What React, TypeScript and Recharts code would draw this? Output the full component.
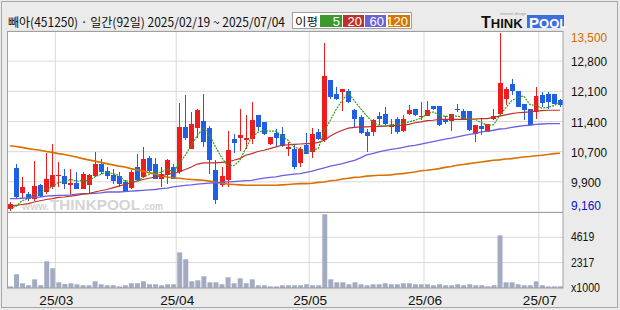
import React from 'react';
import { ComposedChart, Bar, Line, XAxis, YAxis, CartesianGrid, ReferenceLine } from 'recharts';

// ---------- data ----------
const opens = [9240,10220,9620,9590,9480,9800,9640,9750,10020,10020,
 9810,9850,9720,9800,10030,10320,10140,10040,10020,9880,
 9740,10240,10000,10460,10300,9960,10040,10240,10110,11200,
 10680,11180,11340,11180,10160,9800,9920,10910,10940,10880,
 10910,11480,11320,10790,11060,11030,10670,10680,10340,10760,
 10600,11080,10880,12320,11990,12030,12060,11600,11430,11080,
 11080,11460,11510,11200,11380,11100,11520,11630,11430,11470,
 11700,11700,11360,11340,11640,11590,11590,11040,11220,11080,
 11380,11520,11870,12240,12070,11750,11620,11560,11960,11990,
 11990,11840];
const highs = [9400,10300,10000,9640,10380,9830,10580,10800,10350,10180,
 10190,10120,10120,10070,10600,10440,10240,10200,10120,9920,
 10160,10540,10720,10500,10460,10240,10440,10320,11780,11960,
 11560,11620,11990,11220,10400,10240,11100,11030,11630,11480,
 11800,11480,11320,10960,11160,11200,10840,10760,10720,11060,
 11180,11160,13220,12320,12160,12110,12110,11620,11480,11160,
 11380,11560,11670,11390,11440,11480,11720,11640,11800,11820,
 11700,11700,11460,11520,11750,11620,11590,11240,11400,11270,
 11630,13450,12150,12360,12070,11750,11620,12150,12040,12040,
 11990,11880];
const lows = [9180,9480,9480,9430,9430,9520,9600,9700,9760,9720,
 9600,9700,9700,9590,10000,10080,9960,9830,9760,9640,
 9700,9910,9980,10100,9950,9760,9840,9950,10080,10880,
 10670,10940,10710,10080,9340,9760,9760,10580,10620,10660,
 10800,11100,11000,10760,10720,10710,10500,10180,10240,10540,
 10460,10880,10840,11860,11840,11580,11780,11190,11030,10600,
 10980,11240,11240,11030,11030,11080,11480,11460,11360,11460,
 11600,11220,11280,11110,11560,11380,11110,10840,11000,11070,
 11360,11460,11720,11960,11680,11360,11240,11400,11680,11640,
 11750,11680];
const closes = [9360,9520,9760,9480,9790,9550,9950,10040,10040,9830,
 9850,9720,10080,10040,10320,10110,10020,9910,9830,9650,
 10130,9920,10420,10150,9960,10080,10400,9960,11190,10940,
 11280,11600,10840,10400,9440,10030,10640,10820,11000,10940,
 11360,11200,11020,10960,10940,10750,10720,10240,10670,10550,
 11030,10900,12420,11920,11870,12110,11800,11380,11060,10980,
 11360,11400,11270,11240,11080,11400,11600,11480,11460,11600,
 11640,11240,11320,11510,11600,11400,11120,11240,11140,11270,
 11460,12260,12100,12070,11680,11600,11240,11940,11780,11800,
 11760,11720];
const volumes = [150,1250,430,250,790,250,2430,1800,520,370,
 430,340,250,250,610,340,250,250,150,250,
 430,430,610,340,340,250,340,340,3250,2620,
 610,700,1070,520,520,340,980,430,880,430,
 790,250,250,150,150,250,250,250,250,340,
 250,250,6720,790,520,520,340,520,340,250,
 340,340,430,340,340,430,430,340,340,340,
 250,340,250,250,340,250,340,250,250,150,
 250,4800,520,520,340,250,250,610,250,150,
 150,150];
const ma5 = [9240,9300,9430,9480,9590,9620,9710,9760,9870,9880,
 9940,9900,9910,9910,10000,10060,10120,10080,10040,9900,
 9910,9890,9990,10060,10120,10110,10200,10110,10320,10520,
 10760,11000,11170,11020,10720,10470,10270,10270,10390,10690,
 10950,11070,11110,11100,11100,10980,10880,10720,10670,10590,
 10640,10680,11110,11360,11630,11840,12020,11820,11640,11470,
 11320,11240,11220,11250,11270,11280,11320,11360,11410,11510,
 11560,11490,11450,11460,11460,11420,11390,11380,11300,11240,
 11250,11470,11650,11830,11910,11940,11740,11710,11650,11670,
 11710,11800];
const ma20 = [9300,9320,9340,9360,9400,9430,9460,9480,9510,9520,
 9540,9560,9590,9600,9640,9670,9700,9740,9780,9820,
 9860,9900,9940,9970,10000,10030,10060,10090,10120,10180,
 10240,10310,10340,10340,10340,10350,10360,10400,10440,10520,
 10560,10610,10640,10680,10720,10760,10770,10780,10790,10800,
 10800,10830,10880,10980,11060,11120,11170,11190,11200,11200,
 11210,11210,11220,11230,11230,11240,11260,11300,11320,11350,
 11360,11380,11380,11380,11380,11380,11380,11390,11400,11400,
 11430,11460,11490,11520,11540,11550,11560,11580,11590,11600,
 11600,11600];
const ma60 = [9480,9480,9490,9500,9510,9520,9540,9550,9560,9560,
 9570,9590,9600,9600,9610,9620,9640,9640,9640,9650,
 9660,9670,9680,9690,9700,9720,9730,9760,9780,9800,
 9810,9830,9840,9850,9860,9870,9880,9890,9900,9910,
 9920,9950,9970,9990,10000,10030,10050,10070,10080,10110,
 10140,10180,10220,10260,10290,10320,10360,10400,10460,10530,
 10560,10600,10630,10660,10680,10710,10740,10760,10790,10820,
 10850,10880,10910,10930,10960,10990,11020,11040,11080,11100,
 11120,11150,11160,11190,11210,11230,11240,11260,11270,11280,
 11280,11280];
const ma120 = [10750,10730,10710,10680,10660,10640,10610,10590,10560,10540,
 10510,10480,10440,10410,10380,10350,10320,10290,10260,10240,
 10200,10170,10140,10100,10070,10030,10000,9980,9970,9950,
 9940,9930,9920,9900,9880,9850,9830,9820,9810,9800,
 9800,9800,9800,9800,9800,9810,9820,9830,9840,9840,
 9850,9870,9880,9910,9920,9950,9970,9990,10000,10020,
 10030,10040,10040,10050,10070,10080,10100,10120,10150,10160,
 10180,10200,10230,10250,10280,10300,10320,10340,10360,10380,
 10400,10410,10430,10440,10460,10480,10490,10510,10520,10540,
 10560,10570];

const monthStarts = [8, 28, 50, 69, 88];
const monthLabels = ['25/03', '25/04', '25/05', '25/06', '25/07'];
const priceTickLabels = ['13,500', '12,800', '12,100', '11,400', '10,700', '9,900', '9,160'];
const priceMax = 13500;
const priceMin = 9160;
const volumeTickValues = [0, 2317, 4619];
const volumeTickLabels = ['x1000', '2317', '4619'];
const volumeMax = 6928;
const titleText = '빼아(451250) · 일간(92일) 2025/02/19 ~ 2025/07/04';
const legendLabels = ['5', '20', '60', '120'];

// ---------- styles ----------
const UP = '#ee1c1c';
const DOWN = '#1f5fe6';
const C_MA5 = '#3a9a1e';
const C_MA20 = '#c0302a';
const C_MA60 = '#6a5fe0';
const C_MA120 = '#d97000';
const GRID = '#d9d9d9';
const legendColors = ['#3c9a2c', '#c0302a', '#6a62d8', '#d77700'];

const data = opens.map((o, i) => ({
  i,
  o,
  h: highs[i],
  l: lows[i],
  c: closes[i],
  v: volumes[i],
  ma5: ma5[i],
  ma20: ma20[i],
  ma60: ma60[i],
  ma120: ma120[i],
}));

const priceTicks = priceTickLabels.map(
  (_, k) => priceMax - (k * (priceMax - priceMin)) / (priceTickLabels.length - 1)
);

const Candle = (props: any) => {
  const { x, y, width, height, payload } = props;
  if (!payload || height == null) return null;
  const { o, h, l, c } = payload;
  const color = c >= o ? UP : DOWN;
  const k = h - l > 0 ? height / (h - l) : 0;
  const yOf = (p: number) => y + (h - p) * k;
  const cx = Math.floor(x + width / 2);
  const wTop = Math.round(y);
  const wBot = Math.round(y + height);
  const bTop = Math.round(yOf(Math.max(o, c)));
  const bBot = Math.round(yOf(Math.min(o, c)));
  return (
    <g>
      <rect x={cx} y={wTop} width={1} height={Math.max(1, wBot - wTop)} fill={color} />
      <rect x={cx - 2} y={bTop} width={5} height={Math.max(1, bBot - bTop)} fill={color} />
    </g>
  );
};

const labelFont = "'Liberation Sans', Arial, sans-serif";

const PriceTick = (props: any) => {
  const { y, payload } = props;
  const idx = priceTicks.findIndex((t) => Math.abs(t - payload.value) < 1);
  if (idx < 0) return null;
  const last = priceTickLabels.length - 1;
  const fill = idx === 0 ? '#d46a00' : idx === last ? '#0a14c8' : '#111111';
  const dy = idx === 0 ? 6 : idx === last ? -7 : 0;
  const label = priceTickLabels[idx];
  return (
    <text
      x={571}
      y={y + dy + 5}
      fontSize={13}
      fontFamily={labelFont}
      fill={fill}
      textLength={label.length * 6}
      lengthAdjust="spacingAndGlyphs"
    >
      {label}
    </text>
  );
};

const VolTick = (props: any) => {
  const { y, payload } = props;
  const idx = volumeTickValues.indexOf(payload.value);
  if (idx < 0) return null;
  const label = volumeTickLabels[idx];
  return (
    <text
      x={571}
      y={y + 4}
      fontSize={13}
      fontFamily={labelFont}
      fill="#111111"
      textLength={label.length * 5.8}
      lengthAdjust="spacingAndGlyphs"
    >
      {label}
    </text>
  );
};

const DateTick = (props: any) => {
  const { x, y, payload } = props;
  const idx = monthStarts.indexOf(payload.value);
  if (idx < 0) return null;
  const label = monthLabels[idx];
  return (
    <text
      x={x - 2}
      y={y + 17}
      textAnchor="middle"
      fontSize={13}
      fontFamily={labelFont}
      fill="#111111"
      textLength={34}
      lengthAdjust="spacingAndGlyphs"
    >
      {label}
    </text>
  );
};

export default function App() {
  return (
    <div
      style={{
        position: 'absolute',
        left: 0,
        top: 0,
        width: 620,
        height: 310,
        background: '#ebebeb',
        overflow: 'hidden',
      }}
    >
      {/* background layer */}
      <svg width={620} height={310} style={{ position: 'absolute', left: 0, top: 0 }}>
        <rect x={7} y={31} width={556} height={257} fill="#ffffff" />
        <text x={22} y={210} fill="#d4d4d4" fontWeight="bold" fontFamily={labelFont} fontSize={11}
          textLength={27} lengthAdjust="spacingAndGlyphs">
          www.
        </text>
        <text x={50} y={210} fill="#d4d4d4" fontWeight="bold" fontFamily={labelFont} fontSize={15}
          textLength={90} lengthAdjust="spacingAndGlyphs">
          THINKPOOL
        </text>
        <text x={142} y={210} fill="#d4d4d4" fontWeight="bold" fontFamily={labelFont} fontSize={11}
          textLength={21} lengthAdjust="spacingAndGlyphs">
          .com
        </text>
      </svg>

      {/* price panel */}
      <div style={{ position: 'absolute', left: 0, top: 0 }}>
        <ComposedChart
          width={620}
          height={212}
          data={data}
          margin={{ top: 31, right: 0, bottom: 0, left: 7 }}
        >
          <CartesianGrid vertical={false} stroke={GRID} />
          {monthStarts.map((m) => (
            <ReferenceLine key={m} x={m} position="start" stroke={GRID} ifOverflow="visible" />
          ))}
          <XAxis dataKey="i" type="category" hide />
          <YAxis
            orientation="right"
            width={57}
            domain={[priceMin, priceMax]}
            ticks={priceTicks}
            interval={0}
            allowDataOverflow
            axisLine={false}
            tickLine={false}
            tickSize={0}
            tickMargin={0}
            tick={(p: any) => <PriceTick {...p} />}
          />
          <Line dataKey="ma120" stroke={C_MA120} strokeWidth={1.6} dot={false} isAnimationActive={false} />
          <Line dataKey="ma60" stroke={C_MA60} strokeWidth={1.3} dot={false} isAnimationActive={false} />
          <Bar
            dataKey={(d: any) => [d.l, d.h]}
            barSize={5}
            isAnimationActive={false}
            shape={(p: any) => <Candle {...p} />}
          />
          <Line dataKey="ma20" stroke={C_MA20} strokeWidth={1.2} dot={false} isAnimationActive={false} />
          <Line
            dataKey="ma5"
            stroke={C_MA5}
            strokeWidth={1.2}
            strokeDasharray="2 1"
            dot={false}
            isAnimationActive={false}
          />
        </ComposedChart>
      </div>

      {/* volume panel */}
      <div style={{ position: 'absolute', left: 0, top: 212 }}>
        <ComposedChart
          width={620}
          height={98}
          data={data}
          margin={{ top: 0, right: 0, bottom: 0, left: 7 }}
        >
          <CartesianGrid vertical={false} stroke={GRID} />
          {monthStarts.map((m) => (
            <ReferenceLine key={m} x={m} position="start" stroke={GRID} ifOverflow="visible" />
          ))}
          <XAxis
            dataKey="i"
            type="category"
            ticks={monthStarts}
            interval={0}
            height={22}
            axisLine={false}
            tickLine={false}
            tickSize={0}
            tickMargin={0}
            tick={(p: any) => <DateTick {...p} />}
          />
          <YAxis
            orientation="right"
            width={57}
            domain={[0, volumeMax]}
            ticks={volumeTickValues}
            interval={0}
            allowDataOverflow
            axisLine={false}
            tickLine={false}
            tickSize={0}
            tickMargin={0}
            tick={(p: any) => <VolTick {...p} />}
          />
          <Bar dataKey="v" fill="#a3abc2" barSize={5} isAnimationActive={false} />
        </ComposedChart>
      </div>

      {/* overlay: frame, title, legend, logo */}
      <svg
        width={620}
        height={310}
        style={{ position: 'absolute', left: 0, top: 0, pointerEvents: 'none' }}
      >
        <rect x={1.5} y={1.5} width={616} height={306} fill="none" stroke="#a8a8a8" />
        <rect x={7.5} y={31.5} width={555.5} height={256.5} fill="none" stroke="#a0a0a0" />
        <line x1={7} x2={563} y1={212.5} y2={212.5} stroke="#a0a0a0" />
        <text
          x={8}
          y={27}
          fontSize={12.5}
          fontFamily="'Noto Sans CJK KR', sans-serif"
          fill="#111111"
          textLength={277}
          lengthAdjust="spacingAndGlyphs"
        >
          {titleText}
        </text>
        <rect x={292.5} y={12.5} width={119} height={16} fill="#ffffff" stroke="#a0a0a0" />
        <text
          x={295}
          y={25.5}
          fontSize={11.5}
          fontFamily="'Noto Sans CJK KR', sans-serif"
          fill="#111111"
          textLength={23}
          lengthAdjust="spacingAndGlyphs"
        >
          이평
        </text>
        {legendLabels.map((lab, k) => {
          const xs = [320, 343, 365, 388];
          const ws = [22, 21, 21, 22];
          return (
            <g key={lab}>
              <rect x={xs[k]} y={15} width={ws[k]} height={12} fill={legendColors[k]} />
              <text
                x={xs[k] + ws[k] - 2}
                y={26}
                textAnchor="end"
                fontSize={13}
                fontFamily={labelFont}
                fill="#ffffff"
              >
                {lab}
              </text>
            </g>
          );
        })}
        <text x={500} y={15} fontSize={4} fill="#9a9a9a" fontFamily={labelFont}>
          internet design
        </text>
        <text x={481} y={28} fontSize={13} fontWeight={900} fill="#111111" fontFamily={labelFont}>
          <tspan fontSize={16}>T</tspan>HINK
        </text>
        <rect x={527} y={15} width={37} height={13} fill="#3b6fe0" />
        <text x={529} y={27.5} fontSize={13} fontWeight={900} fill="#ffffff" fontFamily={labelFont}>
          <tspan fontSize={15}>P</tspan>OOL
        </text>
      </svg>
    </div>
  );
}
